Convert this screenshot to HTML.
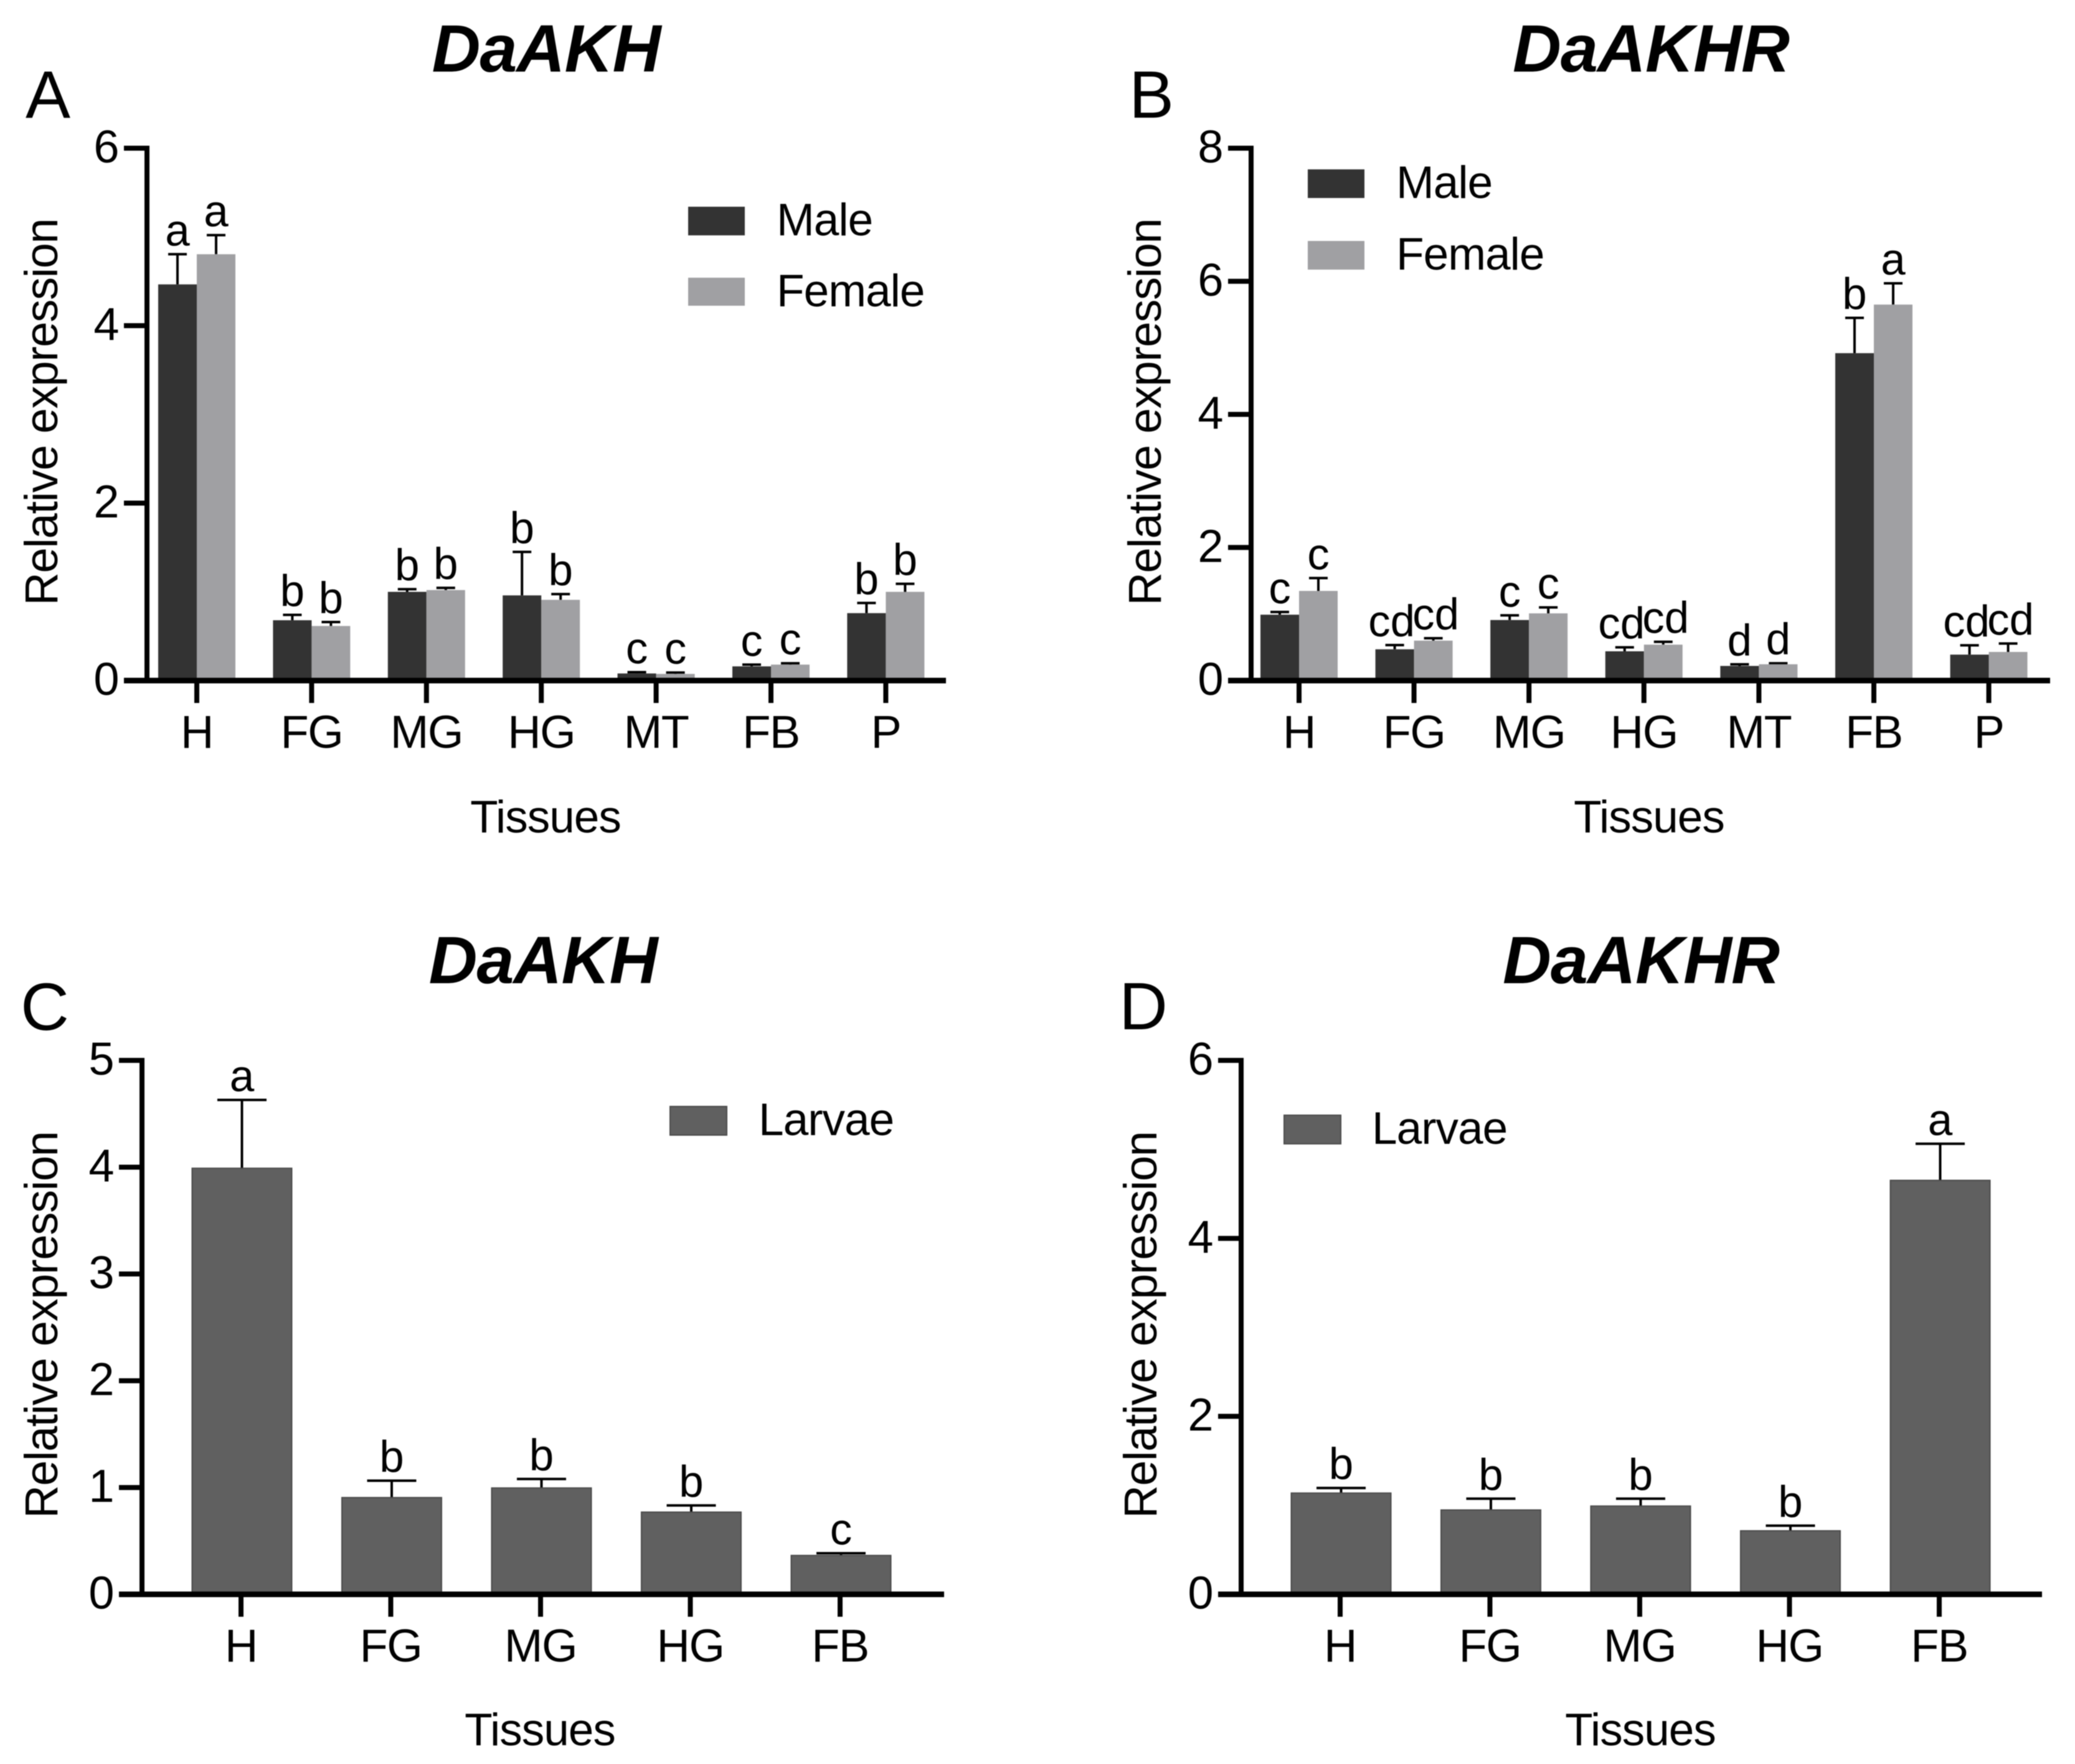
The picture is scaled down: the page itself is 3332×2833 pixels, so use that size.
<!DOCTYPE html>
<html lang="en">
<head>
<meta charset="utf-8">
<title>DaAKH and DaAKHR relative expression</title>
<style>
html,body{margin:0;padding:0;background:#fff;width:3332px;height:2833px;overflow:hidden}
svg{display:block;filter:blur(0.7px)}
text{font-family:"Liberation Sans",sans-serif;fill:#000}
.title{font-size:108px;font-weight:bold;font-style:italic;text-anchor:middle;letter-spacing:-1px}
.panel-letter{font-size:108px}
.y-title{font-size:74px;text-anchor:middle;letter-spacing:-1.3px}
.x-title{font-size:73px;text-anchor:middle;letter-spacing:-1px}
.legend-text{font-size:73px;letter-spacing:-1px}
.tick{font-size:74px;letter-spacing:-1.5px}
.sig{font-size:71px;text-anchor:middle}
</style>
</head>
<body>
<svg id="figure" xmlns="http://www.w3.org/2000/svg" width="3332" height="2833" viewBox="0 0 3332 2833">
  <rect x="0" y="0" width="3332" height="2833" fill="#ffffff"/>

  <g id="panel-a">
    <text class="title" x="877" y="115">DaAKH</text>
    <text class="panel-letter" x="41" y="189">A</text>
    <text class="y-title" transform="translate(92 662) rotate(-90)">Relative expression</text>
    <text class="x-title" x="876" y="1337">Tissues</text>
    <g>
      <rect x="1105" y="332" width="91" height="46" fill="#333333"/>
      <text class="legend-text" x="1247" y="378">Male</text>
      <rect x="1105" y="446" width="91" height="45" fill="#a0a0a3"/>
      <text class="legend-text" x="1247" y="492">Female</text>
    </g>
  </g>

  <g id="panel-b">
    <text class="title" x="2651" y="115">DaAKHR</text>
    <text class="panel-letter" x="1813" y="189">B</text>
    <text class="y-title" transform="translate(1864 662) rotate(-90)">Relative expression</text>
    <text class="x-title" x="2648" y="1337">Tissues</text>
    <g>
      <rect x="2100" y="272" width="91" height="46" fill="#333333"/>
      <text class="legend-text" x="2242" y="318">Male</text>
      <rect x="2100" y="387" width="91" height="46" fill="#a0a0a3"/>
      <text class="legend-text" x="2242" y="433">Female</text>
    </g>
  </g>

  <g id="panel-c">
    <text class="title" x="872" y="1579">DaAKH</text>
    <text class="panel-letter" x="33" y="1654">C</text>
    <text class="y-title" transform="translate(92 2128) rotate(-90)">Relative expression</text>
    <text class="x-title" x="867" y="2803">Tissues</text>
    <g>
      <rect x="1076" y="1777" width="91" height="46" fill="#606060" stroke="#4a4a4a" stroke-width="2"/>
      <text class="legend-text" x="1218" y="1823">Larvae</text>
    </g>
  </g>

  <g id="panel-d">
    <text class="title" x="2635" y="1579">DaAKHR</text>
    <text class="panel-letter" x="1797" y="1653">D</text>
    <text class="y-title" transform="translate(1857 2128) rotate(-90)">Relative expression</text>
    <text class="x-title" x="2634" y="2803">Tissues</text>
    <g>
      <rect x="2062" y="1791" width="91" height="46" fill="#606060" stroke="#4a4a4a" stroke-width="2"/>
      <text class="legend-text" x="2203" y="1837">Larvae</text>
    </g>
  </g>
</svg>

<script>
// Panel A data
const aCategories = ['H', 'FG', 'MG', 'HG', 'MT', 'FB', 'P'];
const aTicks = [0, 2, 4, 6];
const aMale = [4.465, 0.68, 1.00, 0.96, 0.08, 0.16, 0.76];
const aMaleUpper = [4.805, 0.74, 1.03, 1.45, 0.095, 0.18, 0.875];
const aMaleLetters = ['a', 'b', 'b', 'b', 'c', 'c', 'b'];
const aFemale = [4.805, 0.615, 1.02, 0.91, 0.075, 0.18, 1.00];
const aFemaleUpper = [5.02, 0.66, 1.045, 0.975, 0.09, 0.195, 1.09];
const aFemaleLetters = ['a', 'b', 'b', 'b', 'c', 'c', 'b'];

// Panel B data
const bCategories = ['H', 'FG', 'MG', 'HG', 'MT', 'FB', 'P'];
const bTicks = [0, 2, 4, 6, 8];
const bMale = [0.99, 0.47, 0.91, 0.44, 0.22, 4.92, 0.39];
const bMaleUpper = [1.03, 0.533, 0.98, 0.50, 0.245, 5.45, 0.53];
const bMaleLetters = ['c', 'cd', 'c', 'cd', 'd', 'b', 'cd'];
const bFemale = [1.347, 0.60, 1.01, 0.54, 0.245, 5.65, 0.43];
const bFemaleUpper = [1.54, 0.636, 1.10, 0.583, 0.26, 5.97, 0.557];
const bFemaleLetters = ['c', 'cd', 'c', 'cd', 'd', 'a', 'cd'];

// Panel C data
const cCategories = ['H', 'FG', 'MG', 'HG', 'FB'];
const cTicks = [0, 1, 2, 3, 4, 5];
const cLarvae = [3.99, 0.906, 0.996, 0.77, 0.364];
const cLarvaeUpper = [4.63, 1.064, 1.08, 0.832, 0.385];
const cLarvaeLetters = ['a', 'b', 'b', 'b', 'c'];

// Panel D data
const dCategories = ['H', 'FG', 'MG', 'HG', 'FB'];
const dTicks = [0, 2, 4, 6];
const dLarvae = [1.138, 0.948, 0.992, 0.714, 4.652];
const dLarvaeUpper = [1.195, 1.075, 1.075, 0.771, 5.063];
const dLarvaeLetters = ['b', 'b', 'b', 'b', 'a'];

const SVG_NS = 'http://www.w3.org/2000/svg';
const MALE_FILL = '#333333';
const FEMALE_FILL = '#a0a0a3';
const LARVAE_FILL = '#606060';
const AXIS_COLOR = '#000000';

function makeLine(parent, name, x1, y1, x2, y2, width) {
  const el = document.createElementNS(SVG_NS, 'line');
  
  
  el.setAttribute('x1', x1);
  el.setAttribute('y1', y1);
  el.setAttribute('x2', x2);
  el.setAttribute('y2', y2);
  el.setAttribute('stroke', AXIS_COLOR);
  el.setAttribute('stroke-width', width);
  parent.appendChild(el);
  return el;
}

function makeText(parent, name, cls, x, y, anchor, content) {
  const el = document.createElementNS(SVG_NS, 'text');
  
  
  el.setAttribute('class', cls);
  el.setAttribute('x', x);
  el.setAttribute('y', y);
  if (anchor) el.setAttribute('text-anchor', anchor);
  el.textContent = content;
  parent.appendChild(el);
  return el;
}

function makeBar(parent, name, x, y, w, h, fill, outlined) {
  const el = document.createElementNS(SVG_NS, 'rect');
  
  
  el.setAttribute('x', x);
  el.setAttribute('y', y);
  el.setAttribute('width', w);
  el.setAttribute('height', h);
  el.setAttribute('fill', fill);
  if (outlined) {
    el.setAttribute('stroke', '#4a4a4a');
    el.setAttribute('stroke-width', 2);
  }
  parent.appendChild(el);
  return el;
}

// Axis functions for one panel.
function makeAxes(p) {
  const maxTick = p.ticks[p.ticks.length - 1];
  return {
    g: document.getElementById(p.id),
    top: p.yTop,
    x: function (i) { return p.firstX + p.stepX * i; },
    y: function (v) { return p.y0 - (p.y0 - p.yTop) * v / maxTick; }
  };
}

function drawSeries(axes, p, s) {
  s.values.forEach(function (v, i) {
    const cat = p.categories[i];
    const cx = axes.x(i) + s.offset;
    const top = axes.y(v);
    const upper = axes.y(s.upper[i]);
    makeLine(axes.g, 'error-bar-' + s.name + '-' + cat, cx, top, cx, upper, 4);
    makeLine(axes.g, 'error-cap-' + s.name + '-' + cat, cx - p.capW / 2, upper, cx + p.capW / 2, upper, 4);
    makeBar(axes.g, 'bar-' + s.name + '-' + cat, cx - p.barW / 2, top, p.barW, p.y0 - top, s.fill, s.outlined);
    const shift = s.letters[i].length > 1 ? s.letterShift : 0;
    makeText(axes.g, 'significance-' + s.name + '-' + cat, 'sig', cx + shift, upper - 14, null, s.letters[i]);
  });
}

// Axis lines go on top of the bars, as in the reference.
function drawAxes(axes, p) {
  p.ticks.forEach(function (t) {
    const y = axes.y(t);
    makeLine(axes.g, 'y-tick-' + t, p.axisX - 37, y, p.axisX, y, 8);
    makeText(axes.g, 'y-tick-label-' + t, 'tick', p.axisX - 46, y + 23, 'end', String(t));
  });
  p.categories.forEach(function (c, i) {
    const x = axes.x(i);
    makeLine(axes.g, 'x-tick-' + c, x, p.y0, x, p.y0 + 36, 8);
    makeText(axes.g, 'x-tick-label-' + c, 'tick', x, p.y0 + 108, 'middle', c);
  });
  makeLine(axes.g, 'y-axis-line', p.axisX, axes.top - 4, p.axisX, p.y0 + 4, 8);
  makeLine(axes.g, 'x-axis-line', p.axisX - 37, p.y0, p.xEnd, p.y0, 9);
}

const panelA = { id: 'panel-a', categories: aCategories, ticks: aTicks, axisX: 236, xEnd: 1519, y0: 1093, yTop: 238, firstX: 316, stepX: 184.4, barW: 62, capW: 30 };
const panelB = { id: 'panel-b', categories: bCategories, ticks: bTicks, axisX: 2009, xEnd: 3292, y0: 1093, yTop: 238, firstX: 2086, stepX: 184.6, barW: 62, capW: 30 };
const panelC = { id: 'panel-c', categories: cCategories, ticks: cTicks, axisX: 228, xEnd: 1516, y0: 2560.5, yTop: 1703, firstX: 387, stepX: 240.5, barW: 160, capW: 79 };
const panelD = { id: 'panel-d', categories: dCategories, ticks: dTicks, axisX: 1993, xEnd: 3279, y0: 2560.5, yTop: 1703, firstX: 2152, stepX: 240.5, barW: 160, capW: 79 };

const axesA = makeAxes(panelA);
drawSeries(axesA, panelA, { name: 'male', values: aMale, upper: aMaleUpper, letters: aMaleLetters, offset: -31, fill: MALE_FILL, letterShift: 0 });
drawSeries(axesA, panelA, { name: 'female', values: aFemale, upper: aFemaleUpper, letters: aFemaleLetters, offset: 31, fill: FEMALE_FILL, letterShift: 0 });
drawAxes(axesA, panelA);

const axesB = makeAxes(panelB);
drawSeries(axesB, panelB, { name: 'male', values: bMale, upper: bMaleUpper, letters: bMaleLetters, offset: -31, fill: MALE_FILL, letterShift: -5 });
drawSeries(axesB, panelB, { name: 'female', values: bFemale, upper: bFemaleUpper, letters: bFemaleLetters, offset: 31, fill: FEMALE_FILL, letterShift: 4 });
drawAxes(axesB, panelB);

const axesC = makeAxes(panelC);
drawSeries(axesC, panelC, { name: 'larvae', values: cLarvae, upper: cLarvaeUpper, letters: cLarvaeLetters, offset: 1.5, fill: LARVAE_FILL, outlined: true, letterShift: 0 });
drawAxes(axesC, panelC);

const axesD = makeAxes(panelD);
drawSeries(axesD, panelD, { name: 'larvae', values: dLarvae, upper: dLarvaeUpper, letters: dLarvaeLetters, offset: 1.5, fill: LARVAE_FILL, outlined: true, letterShift: 0 });
drawAxes(axesD, panelD);
</script>
</body>
</html>
